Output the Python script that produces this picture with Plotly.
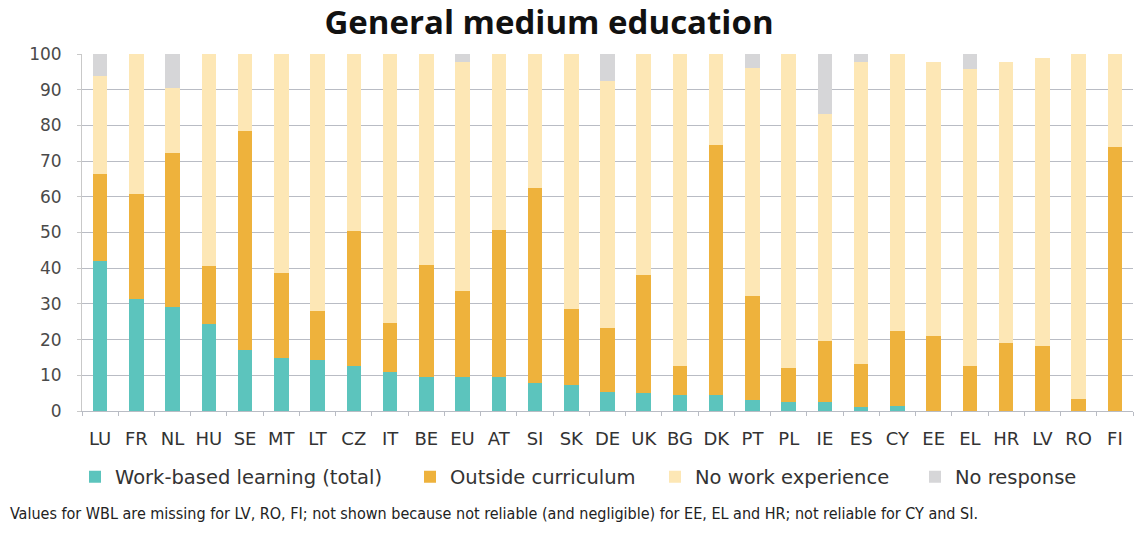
import plotly.graph_objects as go

countries = ["LU", "FR", "NL", "HU", "SE", "MT", "LT", "CZ", "IT", "BE", "EU", "AT", "SI", "SK", "DE",
             "UK", "BG", "DK", "PT", "PL", "IE", "ES", "CY", "EE", "EL", "HR", "LV", "RO", "FI"]

wbl = [42, 31.5, 29, 24.5, 17, 14.8, 14.2, 12.5, 11, 9.6, 9.5, 9.5, 7.8, 7.3, 5.4,
       5, 4.6, 4.5, 3.1, 2.6, 2.6, 1, 1.5, 0, 0, 0, 0, 0, 0]
outside = [24.3, 29.2, 43.4, 16, 61.5, 23.9, 13.7, 37.9, 13.6, 31.2, 24, 41.3, 54.7, 21.3, 17.8,
           33.2, 7.9, 69.9, 29, 9.4, 16.9, 12.2, 20.8, 20.9, 12.5, 19, 18.3, 3.3, 74]
no_work = [27.6, 39.3, 18.2, 59.5, 21.5, 61.3, 72.1, 49.6, 75.4, 59.2, 64.2, 49.2, 37.5, 71.4, 69.3,
           61.8, 87.5, 25.6, 64.1, 88, 63.6, 84.5, 77.7, 76.8, 83.3, 78.7, 80.7, 96.7, 26]
no_resp = [6.1, 0, 9.4, 0, 0, 0, 0, 0, 0, 0, 2.3, 0, 0, 0, 7.5,
           0, 0, 0, 3.8, 0, 16.9, 2.3, 0, 0, 4.2, 0, 0, 0, 0]

series = [
    ("Work-based learning (total)", wbl, "#5cc4bd"),
    ("Outside curriculum", outside, "#eeb23c"),
    ("No work experience", no_work, "#fde7b5"),
    ("No response", no_resp, "#d6d6d8"),
]
# one legend per item so each entry can sit where the original has it
legend_x = [75, 410, 655, 915]

W, H = 1140, 534
L, R, T, B = 82, 7, 54, 123
pw, ph = W - L - R, H - T - B

font = "DejaVu Sans"
fig = go.Figure()
layout_legends = {}
for i, (name, vals, color) in enumerate(series):
    key = "legend" if i == 0 else f"legend{i + 1}"
    fig.add_trace(go.Bar(x=countries, y=vals, name=name, marker_color=color,
                         marker_line_width=0, legend=key, showlegend=True))
    layout_legends[key] = dict(
        xref="container", yref="container", x=legend_x[i] / W, xanchor="left",
        y=1 - 477 / H, yanchor="middle", orientation="h", itemwidth=30,
        font=dict(family=font, size=19.5, color="#333333"), bgcolor="rgba(0,0,0,0)")

fig.update_layout(
    barmode="stack",
    bargap=0.6,
    showlegend=True,
    width=W, height=H,
    margin=dict(l=L, r=R, t=T, b=B),
    paper_bgcolor="white", plot_bgcolor="white",
    title=dict(text="<b>General medium education</b>", x=549 / W, xanchor="center",
               y=1 - 22 / H, yanchor="middle",
               font=dict(family="Open Sans", size=33, color="#111111")),
    font=dict(family=font, color="#444444"),
    **layout_legends,
)
fig.update_yaxes(range=[0, 100], dtick=10, showgrid=True, gridcolor="#b9bcc4", gridwidth=1,
                 showline=True, linecolor="#c9c9c9", zeroline=False,
                 ticks="outside", ticklen=4, tickcolor="#c9c9c9", ticklabelstandoff=12,
                 tickfont=dict(family=font, size=17, color="#4a4a4a"))
fig.update_xaxes(showline=True, linecolor="#b9bcc4", ticks="outside", tickson="boundaries",
                 ticklen=4, tickcolor="#b9bcc4", ticklabelstandoff=11, tickangle=0,
                 tickfont=dict(family=font, size=18, color="#333333"))

fig.add_annotation(
    text="Values for WBL are missing for LV, RO, FI; not shown because not reliable (and negligible) for EE, EL and HR; not reliable for CY and SI.",
    xref="paper", yref="paper", x=(8 - L) / pw, y=(H - B - 513) / ph, xanchor="left", yanchor="middle",
    showarrow=False, font=dict(family="DejaVu Sans Condensed", size=16, color="#222222"))

fig.write_html("out.html", config={"displayModeBar": False},
               post_script="document.body.style.margin='0px';")
